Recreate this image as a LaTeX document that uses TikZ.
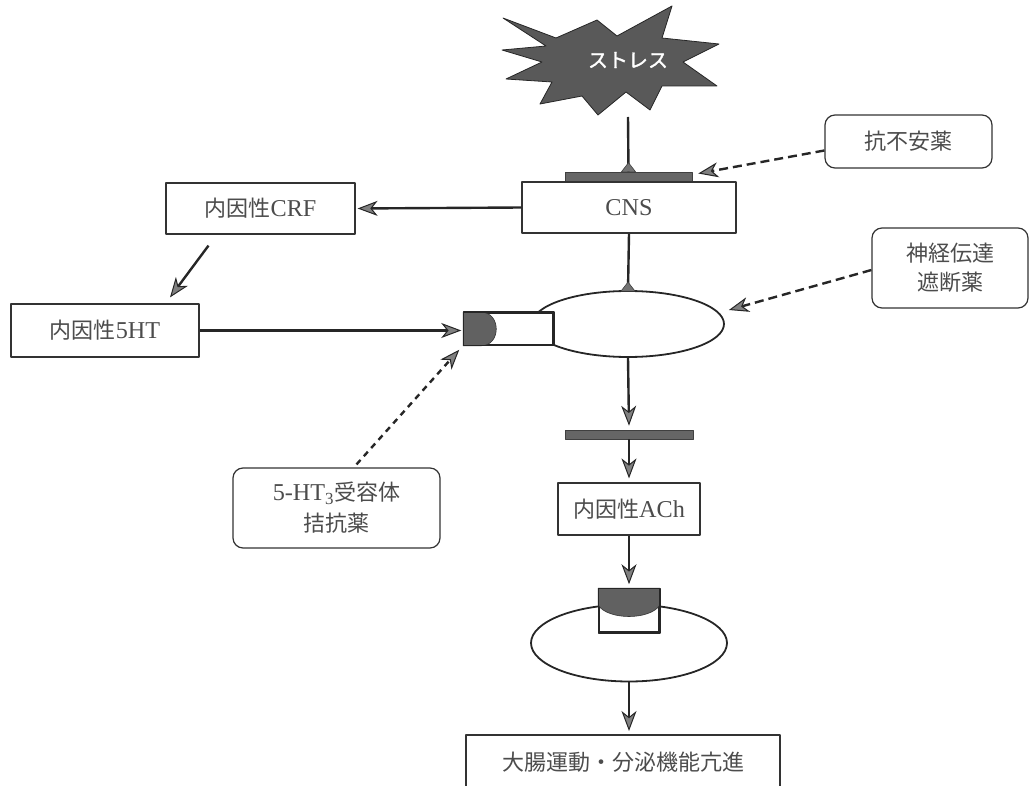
\documentclass[tikz,border=0pt]{standalone}
\usepackage{fontspec}
\setmainfont{Liberation Serif}[Scale=1.1]
\newfontfamily\cjk{Noto Sans CJK JP}
\newfontfamily\cjkb[FakeBold=1.5]{Noto Sans CJK JP}
\newcommand\JP[1]{{\cjk #1}}
\usetikzlibrary{arrows.meta,shapes.geometric,calc}
\begin{document}
\begin{tikzpicture}[x=1pt,y=-1pt,line join=round,
  box/.style={draw=black!80,line width=1.2pt,fill=white,text=black!70,inner sep=0pt,
    font=\fontsize{22}{30}\selectfont},
  rbox/.style={box,rounded corners=10pt,align=center},
  line/.style={line width=2.4pt,draw=black!85},
  arr/.style={line,-{Stealth[length=20pt,width=15pt,inset=6pt,fill=black!50,line width=1pt]}},
  darr/.style={arr,dash pattern=on 9pt off 5pt},
  bar/.style={draw=black!75,fill=black!60,minimum height=9pt,inner sep=0pt,line width=0.6pt},
  rec/.style={draw=black!85,fill=white,line width=1.5pt,inner sep=0pt},
  oval/.style={draw=black!85,line width=1.8pt,ellipse,inner sep=0pt},
  dark/.style={fill=black!62,draw=black!80,line width=0.6pt},
  tri/.style={fill=black!55,draw=black!75,line width=0.6pt}
]
\useasboundingbox (0,0) rectangle (1031,786);
\clip (0,0) rectangle (1031,786);

% starburst
\draw[fill=black!65,draw=black!85,line width=0.8pt]
  (503,18) -- (556,38) -- (597,20) -- (617,36) -- (672,6) -- (662,38) -- (719,44)
  -- (683,62) -- (717,86) -- (662,86) -- (650,110) -- (626,92) -- (598,115)
  -- (582,96) -- (540,104) -- (552,82) -- (506,79) -- (542,62) -- (502,50) -- (546,46) -- cycle;
\node[text=white,font=\cjkb\fontsize{20}{22}\selectfont] (stress) at (628,60) {ストレス};
\coordinate (stressb) at (628,117);

% boxes
\node[box,minimum width=189pt,minimum height=51pt] (crf) at (260.5,208.5) {\JP{内因性}CRF};
\node[bar,minimum width=127pt] (bar1) at (628.5,176.5) {};
\node[box,minimum width=214pt,minimum height=51pt] (cns) at (629,207.5) {CNS};
\node[box,minimum width=188pt,minimum height=53pt] (ht5) at (105,330.5) {\JP{内因性}5HT};
\node[box,minimum width=142pt,minimum height=52pt] (ach) at (629,509) {\JP{内因性}ACh};
\node[rbox,minimum width=167pt,minimum height=53pt] (anx) at (908.5,141.5) {\JP{抗不安薬}};
\node[rbox,minimum width=156pt,minimum height=80pt,font=\fontsize{22}{29}\selectfont] (nt) at (950,268) {\JP{神経伝達}\\\JP{遮断薬}};
\node[rbox,minimum width=207pt,minimum height=80pt,font=\fontsize{22}{31}\selectfont] (ant) at (336.5,508) {5-HT\textsubscript{3}\JP{受容体}\\\JP{拮抗薬}};

% first cell
\node[oval,minimum width=192pt,minimum height=66pt] (e1) at (628,324) {};
\node[rec,minimum width=89pt,minimum height=32pt] (rec1) at (508.5,329) {};
\fill[dark] (rec1.north west) -- ($(rec1.north west)+(18,0)$)
  .. controls ($(rec1.north west)+(38,0)$) and ($(rec1.south west)+(38,0)$) .. ($(rec1.south west)+(18,0)$)
  -- (rec1.south west) -- cycle;
\draw[rec,fill=none] (rec1.north west) rectangle (rec1.south east);

\node[bar,minimum width=128pt] (bar2) at (629,434.5) {};

% second cell
\node[oval,minimum width=196pt,minimum height=77pt] (e2) at (629,643) {};
\node[rec,minimum width=60pt,minimum height=43pt] (rec2) at (629,610.5) {};
\fill[dark] (rec2.north west) -- (rec2.north east) -- ($(rec2.north east)+(0,17)$)
  .. controls ($(rec2.north east)+(-10,32)$) and ($(rec2.north west)+(10,32)$) .. ($(rec2.north west)+(0,17)$) -- cycle;
\draw[rec,fill=none] (rec2.north west) rectangle (rec2.south east);

% output box (bottom cut off)
\node[text=black!70,font=\fontsize{22}{25}\selectfont] (out) at (623,762) {\JP{大腸運動・分泌機能亢進}};
\coordinate (outtop) at (629,735);
\draw[draw=black!80,line width=1.2pt] (466,800) |- (780,735) -- (780,800);

% solid connectors
\draw[line] (stressb) -- (bar1.north);
\draw[tri] ($(bar1.north)+(-7,0)$) -- ($(bar1.north)+(7,0)$) -- ($(bar1.north)+(0,-9)$) -- cycle;
\draw[line] (cns.south) -- (e1.north);
\draw[tri] ($(e1.north)+(-7,1)$) -- ($(e1.north)+(7,1)$) -- ($(e1.north)+(0,-8)$) -- cycle;
\draw[arr,shorten >=2pt] (cns.west) -- (crf.east);
\draw[arr] ($(crf.south)+(-52,11)$) -- ($(ht5.north)+(65,-6)$);
\draw[arr] (ht5.east) -- ($(ht5.east -| rec1.west)+(-2,0)$);
\draw[arr] (e1.south) -- ($(bar2.north)+(0,-4)$);
\draw[arr] (bar2.south) -- ($(ach.north)+(0,-4)$);
\draw[arr] (ach.south) -- ($(rec2.north)+(0,-4)$);
\draw[arr] (e2.south) -- ($(outtop)+(0,-4)$);

% dashed connectors
\draw[darr] ($(anx.west)+(0,9)$) -- ($(bar1.east)+(6,-3)$);
\draw[darr] ($(nt.west)+(0,2)$) -- ($(e1.east)+(4,-14)$);
\draw[darr,dash pattern=on 6pt off 5pt] ($(ant.north)+(20,-3)$) -- ($(rec1.south west)+(-4,4)$);
\end{tikzpicture}
\end{document}
